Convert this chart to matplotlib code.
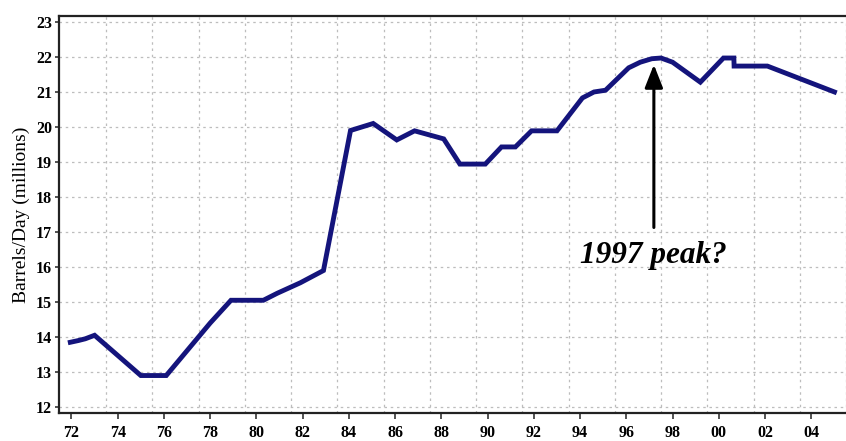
import numpy as np
import matplotlib
matplotlib.use("Agg")
import matplotlib.pyplot as plt

# ----------------------------
# Data
# ----------------------------

years = [1971.95, 1972.3, 1972.6, 1973.0, 1975.0, 1976.1, 1978.0, 1978.9,
         1980.3, 1980.9, 1981.9, 1982.9, 1984.07, 1985.05, 1986.07, 1986.84,
         1988.1, 1988.8, 1989.9, 1990.6, 1991.2, 1991.9, 1993.0, 1994.1,
         1994.6, 1995.1, 1996.1, 1996.6, 1997.1, 1997.5, 1998.0, 1999.2,
         2000.2, 2000.65, 2000.66, 2002.1, 2005.0]
barrels = [13.85, 13.9, 13.95, 14.05, 12.9, 12.9, 14.4, 15.05,
           15.05, 15.25, 15.55, 15.9, 19.9, 20.1, 19.63, 19.89,
           19.66, 18.94, 18.94, 19.43, 19.43, 19.89, 19.89, 20.83,
           21.0, 21.05, 21.69, 21.85, 21.95, 21.97, 21.85, 21.28,
           21.97, 21.97, 21.74, 21.74, 21.0]

tick_years = list(range(1972, 2005, 2))
tick_labels = [f"{y % 100:02d}" for y in tick_years]
y_ticks = list(range(12, 24))

peak_year = 1997.19
peak_value = 21.86
peak_text = "1997 peak?"

# ----------------------------
# Figure
# ----------------------------

fig = plt.figure(figsize=(8.46, 4.41), dpi=100)
ax = fig.add_axes([0.0697, 0.0635, 0.9303, 0.9002])

ax.plot(years, barrels, color="#14147c", linewidth=3.5,
        solid_joinstyle="miter", zorder=3)

ax.set_xlim(1971.46, 2005.0)
ax.set_ylim(11.83, 23.17)

# major ticks at even years, grid on half-years between them
ax.set_xticks(tick_years)
ax.set_xticklabels(tick_labels)
ax.set_xticks([y + 1.5 for y in tick_years], minor=True)
ax.set_yticks(y_ticks)

ax.grid(False)
ax.grid(which="minor", axis="x", linestyle=(0, (2, 3)), color="#bdbdbd",
        linewidth=0.9)
ax.grid(which="major", axis="y", linestyle=(0, (2, 3)), color="#bdbdbd",
        linewidth=0.9)

ax.tick_params(axis="x", which="minor", length=0)
ax.tick_params(axis="x", which="major", direction="out", length=4,
               width=1.2, color="#333333", pad=5)
ax.tick_params(axis="y", which="major", direction="out", length=3,
               width=1.2, color="#333333", pad=2)

for lab in ax.get_xticklabels() + ax.get_yticklabels():
    lab.set_fontfamily("Liberation Serif")
    lab.set_fontweight("bold")
    lab.set_fontsize(11.5)

ax.set_ylabel("Barrels/Day (millions)", family="Liberation Serif",
              fontsize=14)
ax.yaxis.set_label_coords(-0.037, 0.5)

for side in ["left", "top", "bottom"]:
    ax.spines[side].set_linewidth(1.6)
    ax.spines[side].set_color("#222222")
ax.spines["right"].set_visible(False)

# ----------------------------
# Annotation
# ----------------------------

ax.annotate("", xy=(peak_year, peak_value), xytext=(peak_year, 17.05),
            arrowprops=dict(arrowstyle="-|>,head_length=1.4,head_width=0.55",
                            color="black", linewidth=2.2),
            zorder=4)
ax.text(peak_year, 16.33, peak_text, ha="center", va="center",
        family="Liberation Serif", fontweight="bold", fontstyle="italic",
        fontsize=22.5, zorder=4)

fig.savefig("out.png", dpi=100)
